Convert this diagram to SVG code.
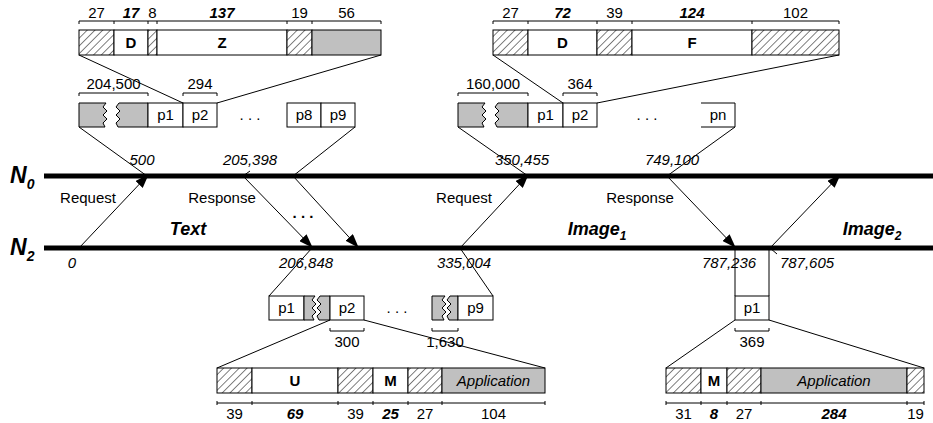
<svg xmlns="http://www.w3.org/2000/svg" width="933" height="423" viewBox="0 0 933 423">
<style>
text{font-family:"Liberation Sans",Arial,sans-serif;fill:#000}
.n{font-size:15px;text-anchor:middle}
.bi{font-size:15px;font-weight:bold;font-style:italic;text-anchor:middle}
.b{font-size:15px;font-weight:bold;text-anchor:middle}
.it{font-size:15px;font-style:italic;text-anchor:middle}
.lb{font-size:15px;text-anchor:middle}
.big{font-size:18px;font-weight:bold;font-style:italic;text-anchor:middle}
.ax{font-size:23px;font-weight:bold;font-style:italic}
.thin{stroke:#000;stroke-width:1;fill:none}
.box{stroke:#000;stroke-width:1;fill:#fff}
.gray{stroke:#000;stroke-width:1;fill:#c0c0c0}
.hat{stroke:#000;stroke-width:1;fill:url(#hatch)}
.tl{stroke:#000;stroke-width:5}
.arr{stroke:#000;stroke-width:1;fill:none;marker-end:url(#ah)}
</style>
<defs>
<pattern id="hatch" patternUnits="userSpaceOnUse" width="5.5" height="5.5" patternTransform="rotate(45)">
<rect width="5.5" height="5.5" fill="#fff"/>
<line x1="0" y1="0" x2="0" y2="5.5" stroke="#000" stroke-width="1"/>
</pattern>
<marker id="ah" markerWidth="14" markerHeight="10" refX="13" refY="5" orient="auto" markerUnits="userSpaceOnUse">
<path d="M0,0 L14,5 L0,10 z" fill="#000"/>
</marker>
</defs>

<!-- Timelines -->
<g id="timelines">
<line class="tl" x1="44" y1="176" x2="933" y2="176"/>
<line class="tl" x1="44" y1="248" x2="933" y2="248"/>
<text class="ax" x="10" y="183">N<tspan font-size="14" dy="6">0</tspan></text>
<text class="ax" x="10" y="255">N<tspan font-size="14" dy="6">2</tspan></text>
</g>

<!-- Top-left header bar -->
<g id="bar-top-left">
<rect class="hat" x="79" y="30" width="35" height="25"/>
<rect class="box" x="114" y="30" width="34" height="25"/>
<rect class="hat" x="148" y="30" width="9" height="25"/>
<rect class="box" x="157" y="30" width="130" height="25"/>
<rect class="hat" x="287" y="30" width="25" height="25"/>
<rect class="gray" x="312" y="30" width="69" height="25"/>
<text class="b" x="131" y="48">D</text>
<text class="b" x="222" y="48">Z</text>
<path class="thin" d="M79,21 H381 M79,21 V24 M114,21 V24 M148,21 V24 M157,21 V24 M287,21 V24 M312,21 V24 M381,21 V24"/>
<text class="n" x="96.5" y="18">27</text>
<text class="bi" x="131" y="18">17</text>
<text class="n" x="152.5" y="18">8</text>
<text class="bi" x="222" y="18">137</text>
<text class="n" x="299.5" y="18">19</text>
<text class="n" x="346.5" y="18">56</text>
</g>

<!-- Top-right header bar -->
<g id="bar-top-right">
<rect class="hat" x="493" y="30" width="35" height="25"/>
<rect class="box" x="528" y="30" width="69" height="25"/>
<rect class="hat" x="597" y="30" width="35" height="25"/>
<rect class="box" x="632" y="30" width="120" height="25"/>
<rect class="hat" x="752" y="30" width="87" height="25"/>
<text class="b" x="562.5" y="48">D</text>
<text class="b" x="692" y="48">F</text>
<path class="thin" d="M493,21 H839 M493,21 V24 M528,21 V24 M597,21 V24 M632,21 V24 M752,21 V24 M839,21 V24"/>
<text class="n" x="510.5" y="18">27</text>
<text class="bi" x="562.5" y="18">72</text>
<text class="n" x="614.5" y="18">39</text>
<text class="bi" x="692" y="18">124</text>
<text class="n" x="795.5" y="18">102</text>
</g>

<!-- Top-left packet row -->
<g id="packets-top-left">
<path class="gray" d="M79,103 H106 L103,107 L107,111 L103,115 L107,119 L103,123 L105,127 H79 Z"/>
<path class="gray" d="M148,103 H119 L116,107 L120,111 L116,115 L120,119 L116,123 L118,127 H148 Z"/>
<rect class="box" x="148" y="103" width="35" height="24"/>
<rect class="box" x="183" y="103" width="34" height="24"/>
<text class="n" x="165.5" y="120">p1</text>
<text class="n" x="200" y="120">p2</text>
<text class="n" x="250" y="120">. . .</text>
<rect class="box" x="287" y="103" width="34" height="24"/>
<rect class="box" x="321" y="103" width="34" height="24"/>
<text class="n" x="304" y="120">p8</text>
<text class="n" x="338" y="120">p9</text>
<path class="thin" d="M79,96 V93 H148 V96 M183,96 V93 H217 V96"/>
<text class="n" x="113.5" y="89">204,500</text>
<text class="n" x="200" y="89">294</text>
</g>

<!-- Top-right packet row -->
<g id="packets-top-right">
<path class="gray" d="M458,103 H485 L482,107 L486,111 L482,115 L486,119 L482,123 L484,127 H458 Z"/>
<path class="gray" d="M528,103 H498 L495,107 L499,111 L495,115 L499,119 L495,123 L497,127 H528 Z"/>
<rect class="box" x="528" y="103" width="35" height="24"/>
<rect class="box" x="563" y="103" width="34" height="24"/>
<text class="n" x="545.5" y="120">p1</text>
<text class="n" x="580" y="120">p2</text>
<text class="n" x="647" y="120">. . .</text>
<path class="thin" d="M701,103 H735 V127 H701"/>
<text class="n" x="718" y="120">pn</text>
<path class="thin" d="M458,96 V93 H528 V96 M563,96 V93 H597 V96"/>
<text class="n" x="493" y="89">160,000</text>
<text class="n" x="580" y="89">364</text>
</g>

<!-- Bottom-left packet row -->
<g id="packets-bottom-left">
<rect class="box" x="269" y="296" width="35" height="24"/>
<path class="gray" d="M304,296 H315 L312,300 L316,304 L312,308 L316,312 L312,316 L314,320 H304 Z"/>
<path class="gray" d="M330,296 H320 L317,300 L321,304 L317,308 L321,312 L317,316 L319,320 H330 Z"/>
<rect class="box" x="330" y="296" width="34" height="24"/>
<text class="n" x="286.5" y="313">p1</text>
<text class="n" x="347" y="313">p2</text>
<text class="n" x="397" y="313">. . .</text>
<path class="gray" d="M432,296 H445 L442,300 L446,304 L442,308 L446,312 L442,316 L444,320 H432 Z"/>
<path class="gray" d="M458,296 H450 L447,300 L451,304 L447,308 L451,312 L447,316 L449,320 H458 Z"/>
<rect class="box" x="458" y="296" width="35" height="24"/>
<text class="n" x="475.5" y="313">p9</text>
<path class="thin" d="M330,328 V331 H364 V328 M432,328 V331 H458 V328"/>
<text class="n" x="347" y="347">300</text>
<text class="n" x="445" y="347">1,630</text>
</g>

<!-- Bottom-right packet -->
<g id="packet-bottom-right">
<rect class="box" x="735" y="296" width="34" height="24"/>
<text class="n" x="752" y="313">p1</text>
<path class="thin" d="M735,328 V331 H769 V328"/>
<text class="n" x="752" y="347">369</text>
</g>

<!-- Bottom-left bar -->
<g id="bar-bottom-left">
<rect class="hat" x="217" y="368" width="35" height="25"/>
<rect class="box" x="252" y="368" width="86" height="25"/>
<rect class="hat" x="338" y="368" width="35" height="25"/>
<rect class="box" x="373" y="368" width="35" height="25"/>
<rect class="hat" x="408" y="368" width="34" height="25"/>
<rect class="gray" x="442" y="368" width="103" height="25"/>
<text class="b" x="295" y="386">U</text>
<text class="b" x="390.5" y="386">M</text>
<text class="n" x="493.5" y="386" font-style="italic">Application</text>
<path class="thin" d="M217,403 H545 M217,401 V405 M252,401 V405 M338,401 V405 M373,401 V405 M408,401 V405 M442,401 V405 M545,401 V405"/>
<text class="n" x="234.5" y="419">39</text>
<text class="bi" x="295" y="419">69</text>
<text class="n" x="355.5" y="419">39</text>
<text class="bi" x="390.5" y="419">25</text>
<text class="n" x="425" y="419">27</text>
<text class="n" x="493.5" y="419">104</text>
</g>

<!-- Bottom-right bar -->
<g id="bar-bottom-right">
<rect class="hat" x="666" y="368" width="35" height="25"/>
<rect class="box" x="701" y="368" width="26" height="25"/>
<rect class="hat" x="727" y="368" width="34" height="25"/>
<rect class="gray" x="761" y="368" width="146" height="25"/>
<rect class="hat" x="907" y="368" width="17" height="25"/>
<text class="b" x="714" y="386">M</text>
<text class="n" x="834" y="386" font-style="italic">Application</text>
<path class="thin" d="M666,403 H924 M666,401 V405 M701,401 V405 M727,401 V405 M761,401 V405 M907,401 V405 M924,401 V405"/>
<text class="n" x="683.5" y="419">31</text>
<text class="bi" x="714" y="419">8</text>
<text class="n" x="744" y="419">27</text>
<text class="bi" x="834" y="419">284</text>
<text class="n" x="915.5" y="419">19</text>
</g>

<!-- Connectors -->
<g id="connectors">
<line class="thin" x1="79" y1="55" x2="183" y2="103"/>
<line class="thin" x1="381" y1="55" x2="217" y2="103"/>
<line class="thin" x1="493" y1="55" x2="563" y2="103"/>
<line class="thin" x1="839" y1="55" x2="597" y2="103"/>
<line class="thin" x1="79" y1="127" x2="147" y2="176"/>
<line class="thin" x1="355" y1="127" x2="293" y2="176"/>
<line class="thin" x1="458" y1="127" x2="528" y2="176"/>
<line class="thin" x1="735" y1="127" x2="667" y2="176"/>
<line class="thin" x1="312" y1="248" x2="269" y2="296"/>
<line class="thin" x1="460" y1="248" x2="493" y2="296"/>
<line class="thin" x1="735" y1="248" x2="735" y2="296"/>
<line class="thin" x1="769" y1="248" x2="769" y2="296"/>
<line class="thin" x1="330" y1="320" x2="217" y2="368"/>
<line class="thin" x1="364" y1="320" x2="545" y2="368"/>
<line class="thin" x1="735" y1="320" x2="666" y2="368"/>
<line class="thin" x1="769" y1="320" x2="924" y2="368"/>
<line class="thin" x1="243" y1="176" x2="250" y2="171"/>
<line class="thin" x1="770" y1="248" x2="777" y2="254"/>
<line class="arr" x1="79" y1="248" x2="148" y2="175"/>
<line class="arr" x1="243" y1="176" x2="312" y2="247"/>
<line class="arr" x1="293" y1="176" x2="358" y2="247"/>
<line class="arr" x1="460" y1="248" x2="528" y2="175"/>
<line class="arr" x1="667" y1="176" x2="735" y2="247"/>
<line class="arr" x1="770" y1="248" x2="840" y2="175"/>
</g>

<!-- Timeline labels -->
<g id="labels">
<text class="it" x="142" y="165">500</text>
<text class="it" x="250" y="165">205,398</text>
<text class="it" x="522" y="165">350,455</text>
<text class="it" x="672" y="165">749,100</text>
<text class="it" x="72" y="268">0</text>
<text class="it" x="306" y="268">206,848</text>
<text class="it" x="464" y="268">335,004</text>
<text class="it" x="729" y="268">787,236</text>
<text class="it" x="807" y="268">787,605</text>
<text class="lb" x="88" y="203">Request</text>
<text class="lb" x="222" y="203">Response</text>
<text class="lb" x="464" y="203">Request</text>
<text class="lb" x="640" y="203">Response</text>
<text class="b" x="303" y="218" font-size="17">. . .</text>
<text class="big" x="188" y="235">Text</text>
<text class="big" x="597" y="235">Image<tspan font-size="12" dy="5">1</tspan></text>
<text class="big" x="872" y="235">Image<tspan font-size="12" dy="5">2</tspan></text>
</g>
</svg>
